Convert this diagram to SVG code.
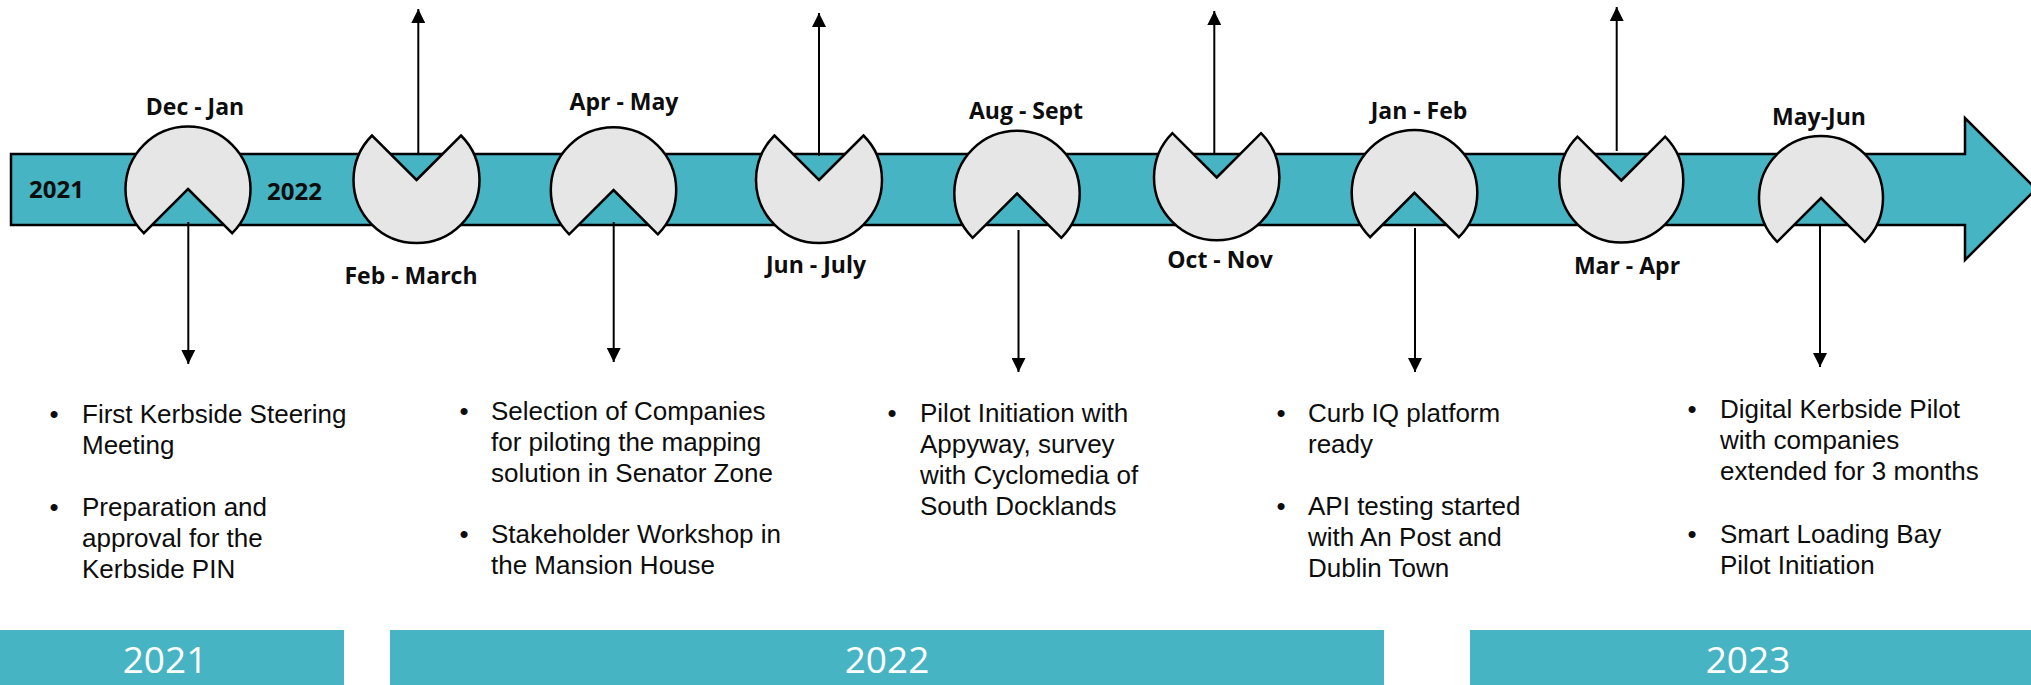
<svg xmlns="http://www.w3.org/2000/svg" width="2031" height="685" viewBox="0 0 2031 685">
<style>
.band{fill:#46B4C3;stroke:#000;stroke-width:2.5;stroke-linejoin:miter}
.pac{fill:#E6E6E6;stroke:#000;stroke-width:2.5;stroke-linejoin:miter}
.lbl{font-family:"Open Sans","Liberation Sans",sans-serif;font-weight:bold;font-size:23px;fill:#0d0d0d;text-anchor:middle}
.yr{font-family:"Open Sans","Liberation Sans",sans-serif;font-weight:bold;font-size:24px;fill:#0d0d0d}
.bt{font-family:"Liberation Sans",Arial,sans-serif;font-size:26px;fill:#0d0d0d}
.bul{font-family:"Liberation Sans",Arial,sans-serif;font-size:26px;fill:#0d0d0d;text-anchor:middle}
.bar{fill:#46B4C3}
.bartxt{font-family:"Open Sans","Liberation Sans",sans-serif;font-size:37px;fill:#fff;text-anchor:middle}
.con{stroke:#000;stroke-width:2;fill:none;marker-end:url(#ah)}
</style>
<defs>
<marker id="ah" viewBox="0 0 10 10" refX="10" refY="5" markerWidth="14" markerHeight="14" markerUnits="userSpaceOnUse" orient="auto">
<path d="M0,0 L10,5 L0,10 Z" fill="#000"/>
</marker>
</defs>
<rect width="2031" height="685" fill="#fff"/>

<g id="timeline">
<polygon class="band" points="11,154 1965,154 1965,118 2036,189 1965,260 1965,225 11,225"/>
<text class="yr" x="29" y="198">2021</text>
<text class="yr" x="267" y="200">2022</text>
</g>

<g id="connectors">
<line class="con" x1="188.3" y1="222" x2="188.3" y2="364"/>
<line class="con" x1="418.3" y1="154" x2="418.3" y2="9"/>
<line class="con" x1="613.7" y1="222" x2="613.7" y2="362"/>
<line class="con" x1="819" y1="156" x2="819" y2="13"/>
<line class="con" x1="1018.5" y1="230" x2="1018.5" y2="372"/>
<line class="con" x1="1214.3" y1="154" x2="1214.3" y2="11"/>
<line class="con" x1="1415" y1="228" x2="1415" y2="372"/>
<line class="con" x1="1616.7" y1="151" x2="1616.7" y2="7"/>
<line class="con" x1="1820" y1="226" x2="1820" y2="367"/>
</g>

<g id="m-dec-jan">
<path class="pac" d="M188,189 L232.2,233.2 A62.5,62.5 0 1 0 143.8,233.2 Z"/>
<text class="lbl" x="195" y="115">Dec - Jan</text>
</g>
<g id="m-feb-march">
<path class="pac" d="M416.5,180 L461,135.5 A63,63 0 1 1 372,135.5 Z"/>
<text class="lbl" x="411" y="284">Feb - March</text>
</g>
<g id="m-apr-may">
<path class="pac" d="M613.5,190 L657.8,234.3 A62.7,62.7 0 1 0 569.2,234.3 Z"/>
<text class="lbl" x="624" y="110">Apr - May</text>
</g>
<g id="m-jun-july">
<path class="pac" d="M819,180 L863.5,135.5 A63,63 0 1 1 774.5,135.5 Z"/>
<text class="lbl" x="816" y="273">Jun - July</text>
</g>
<g id="m-aug-sept">
<path class="pac" d="M1017,193.5 L1061.3,237.8 A62.7,62.7 0 1 0 972.7,237.8 Z"/>
<text class="lbl" x="1026" y="119">Aug - Sept</text>
</g>
<g id="m-oct-nov">
<path class="pac" d="M1216.7,177.5 L1261,133.2 A62.7,62.7 0 1 1 1172.4,133.2 Z"/>
<text class="lbl" x="1220" y="268">Oct - Nov</text>
</g>
<g id="m-jan-feb">
<path class="pac" d="M1414.5,192.8 L1458.9,237.2 A62.8,62.8 0 1 0 1370.1,237.2 Z"/>
<text class="lbl" x="1419" y="119">Jan - Feb</text>
</g>
<g id="m-mar-apr">
<path class="pac" d="M1621.3,180.5 L1665.1,136.7 A62,62 0 1 1 1577.5,136.7 Z"/>
<text class="lbl" x="1627" y="274">Mar - Apr</text>
</g>
<g id="m-may-jun">
<path class="pac" d="M1821,198 L1864.8,241.8 A62,62 0 1 0 1777.2,241.8 Z"/>
<text class="lbl" x="1819" y="125">May-Jun</text>
</g>

<g id="notes-2021">
<text class="bul" x="54" y="423">•</text>
<text class="bt" x="82" y="423">First Kerbside Steering</text>
<text class="bt" x="82" y="454">Meeting</text>
<text class="bul" x="54" y="516">•</text>
<text class="bt" x="82" y="516">Preparation and</text>
<text class="bt" x="82" y="547">approval for the</text>
<text class="bt" x="82" y="578">Kerbside PIN</text>
</g>
<g id="notes-apr-may">
<text class="bul" x="464" y="420">•</text>
<text class="bt" x="491" y="420">Selection of Companies</text>
<text class="bt" x="491" y="451">for piloting the mapping</text>
<text class="bt" x="491" y="482">solution in Senator Zone</text>
<text class="bul" x="464" y="543">•</text>
<text class="bt" x="491" y="543">Stakeholder Workshop in</text>
<text class="bt" x="491" y="574">the Mansion House</text>
</g>
<g id="notes-aug-sept">
<text class="bul" x="892" y="422">•</text>
<text class="bt" x="920" y="422">Pilot Initiation with</text>
<text class="bt" x="920" y="453">Appyway, survey</text>
<text class="bt" x="920" y="484">with Cyclomedia of</text>
<text class="bt" x="920" y="515">South Docklands</text>
</g>
<g id="notes-jan-feb">
<text class="bul" x="1281" y="422">•</text>
<text class="bt" x="1308" y="422">Curb IQ platform</text>
<text class="bt" x="1308" y="453">ready</text>
<text class="bul" x="1281" y="515">•</text>
<text class="bt" x="1308" y="515">API testing started</text>
<text class="bt" x="1308" y="546">with An Post and</text>
<text class="bt" x="1308" y="577">Dublin Town</text>
</g>
<g id="notes-may-jun">
<text class="bul" x="1692" y="418">•</text>
<text class="bt" x="1720" y="418">Digital Kerbside Pilot</text>
<text class="bt" x="1720" y="449">with companies</text>
<text class="bt" x="1720" y="480">extended for 3 months</text>
<text class="bul" x="1692" y="543">•</text>
<text class="bt" x="1720" y="543">Smart Loading Bay</text>
<text class="bt" x="1720" y="574">Pilot Initiation</text>
</g>

<g id="year-2021">
<rect class="bar" x="0" y="630" width="344" height="55"/>
<text class="bartxt" x="165" y="673">2021</text>
</g>
<g id="year-2022">
<rect class="bar" x="390" y="630" width="994" height="55"/>
<text class="bartxt" x="887" y="673">2022</text>
</g>
<g id="year-2023">
<rect class="bar" x="1470" y="630" width="561" height="55"/>
<text class="bartxt" x="1748" y="673">2023</text>
</g>
</svg>
